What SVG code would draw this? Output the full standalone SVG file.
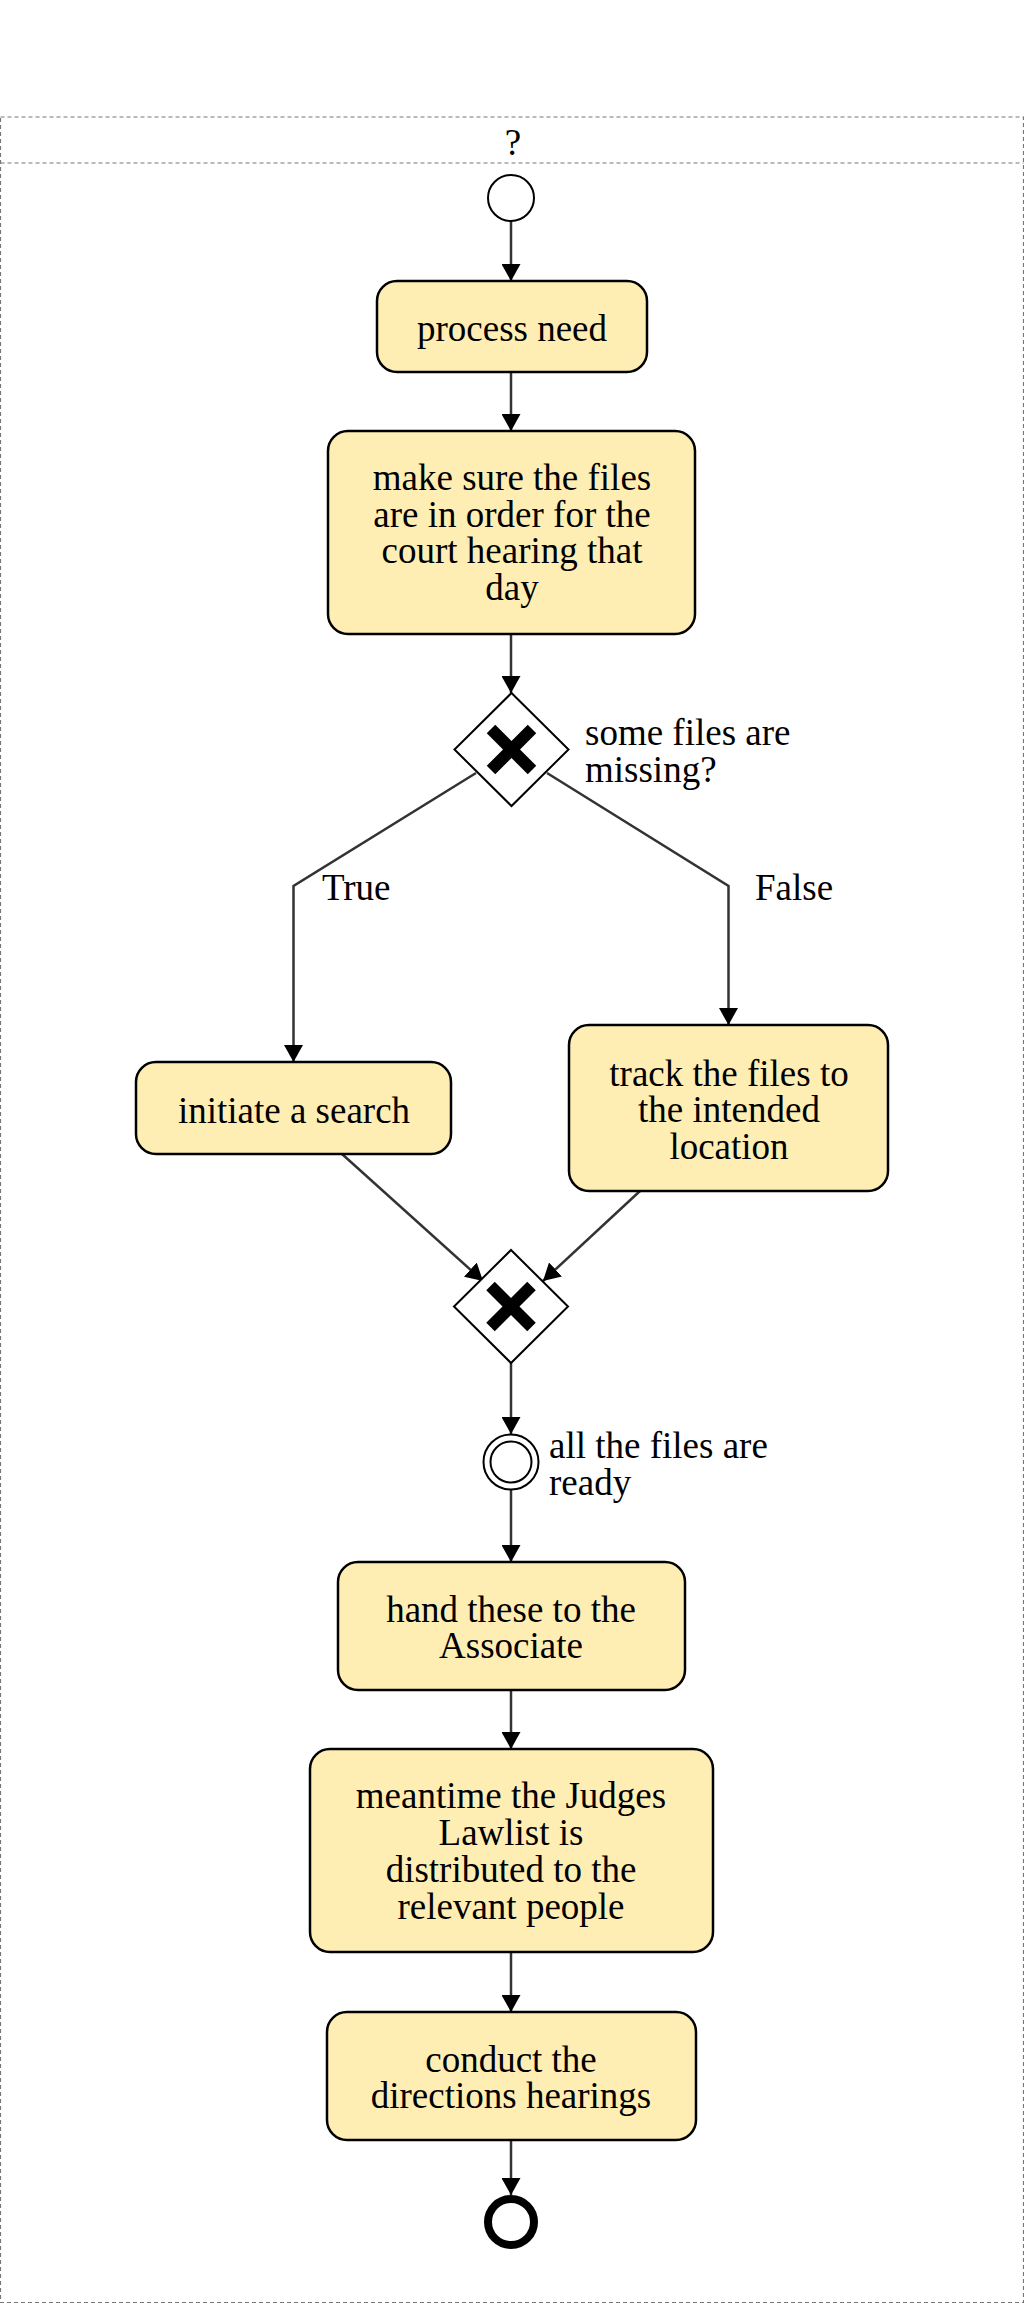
<svg xmlns="http://www.w3.org/2000/svg" width="1024" height="2304" viewBox="0 0 1024 2304">
  <style>
    .frame { fill: none; stroke: #777; stroke-width: 1.2; stroke-dasharray: 4 3; }
    .task { fill: #ffeeb4; stroke: #000; stroke-width: 2.5; }
    .gw { fill: #fff; stroke: #000; stroke-width: 2; }
    .xmark { stroke: #000; stroke-width: 12; stroke-linecap: butt; }
    .ev { fill: #fff; stroke: #000; stroke-width: 2; }
    .end { fill: #fff; stroke: #000; stroke-width: 8; }
    .flow { fill: none; stroke: #333; stroke-width: 2.5; marker-end: url(#arrow); }
    text { font-family: "Liberation Serif", "Times New Roman", serif; font-size: 37px; fill: #000; }
    .c { text-anchor: middle; }
  </style>
  <defs>
    <marker id="arrow" viewBox="0 0 17 19" refX="17" refY="9.5" markerWidth="17" markerHeight="19" markerUnits="userSpaceOnUse" orient="auto">
      <path d="M0,0 L17,9.5 L0,19 Z" fill="#000"/>
    </marker>
  </defs>

  <!-- pool with its header band -->
  <g id="pool">
    <rect class="frame" x="0.5" y="117" width="1023" height="2185.5"/>
    <line class="frame" x1="0.5" y1="163" x2="1023.5" y2="163"/>
    <text class="c" x="513" y="155">?</text>
  </g>

  <!-- sequence flows -->
  <g id="connectors">
    <path class="flow" d="M511,221 L511,281"/>
    <path class="flow" d="M511,372 L511,431"/>
    <path class="flow" d="M511,634 L511,693"/>
    <path class="flow" d="M476,773 L293.5,886 L293.5,1062"/>
    <path class="flow" d="M547,773 L728.5,886 L728.5,1025"/>
    <path class="flow" d="M342,1154 L483,1281"/>
    <path class="flow" d="M640,1191 L543,1281"/>
    <path class="flow" d="M511,1363 L511,1434"/>
    <path class="flow" d="M511,1490 L511,1562"/>
    <path class="flow" d="M511,1690 L511,1749"/>
    <path class="flow" d="M511,1952 L511,2012"/>
    <path class="flow" d="M511,2140 L511,2195"/>
    <text x="322" y="900">True</text>
    <text x="755" y="900">False</text>
  </g>

  <g id="start">
    <circle class="ev" cx="511" cy="198" r="23"/>
  </g>

  <g id="process-need">
    <rect class="task" x="377" y="281" width="270" height="91" rx="20"/>
    <text class="c" x="512" y="341">process need</text>
  </g>

  <g id="make-sure">
    <rect class="task" x="328" y="431" width="367" height="203" rx="20"/>
    <text class="c" x="512" y="490">make sure the files</text>
    <text class="c" x="512" y="527">are in order for the</text>
    <text class="c" x="512" y="563">court hearing that</text>
    <text class="c" x="512" y="600">day</text>
  </g>

  <g id="split-gateway">
    <polygon class="gw" points="511.5,693 568.5,749.5 511.5,806 454.5,749.5"/>
    <line class="xmark" x1="491" y1="729" x2="532" y2="770"/>
    <line class="xmark" x1="532" y1="729" x2="491" y2="770"/>
    <text x="585" y="745">some files are</text>
    <text x="585" y="782">missing?</text>
  </g>

  <g id="initiate-search">
    <rect class="task" x="136" y="1062" width="315" height="92" rx="20"/>
    <text class="c" x="294" y="1123">initiate a search</text>
  </g>

  <g id="track-files">
    <rect class="task" x="569" y="1025" width="319" height="166" rx="20"/>
    <text class="c" x="729" y="1086">track the files to</text>
    <text class="c" x="729" y="1122">the intended</text>
    <text class="c" x="729" y="1159">location</text>
  </g>

  <g id="merge-gateway">
    <polygon class="gw" points="511,1250 568,1306.5 511,1363 454,1306.5"/>
    <line class="xmark" x1="490.5" y1="1286" x2="531.5" y2="1327"/>
    <line class="xmark" x1="531.5" y1="1286" x2="490.5" y2="1327"/>
  </g>

  <g id="files-ready">
    <circle class="ev" cx="511" cy="1462" r="27.5"/>
    <circle class="ev" cx="511" cy="1462" r="20.5"/>
    <text x="549" y="1458">all the files are</text>
    <text x="549" y="1495">ready</text>
  </g>

  <g id="hand-to-associate">
    <rect class="task" x="338" y="1562" width="347" height="128" rx="20"/>
    <text class="c" x="511" y="1622">hand these to the</text>
    <text class="c" x="511" y="1658">Associate</text>
  </g>

  <g id="distribute-lawlist">
    <rect class="task" x="310" y="1749" width="403" height="203" rx="20"/>
    <text class="c" x="511" y="1808">meantime the Judges</text>
    <text class="c" x="511" y="1845">Lawlist is</text>
    <text class="c" x="511" y="1882">distributed to the</text>
    <text class="c" x="511" y="1919">relevant people</text>
  </g>

  <g id="directions-hearings">
    <rect class="task" x="327" y="2012" width="369" height="128" rx="20"/>
    <text class="c" x="511" y="2072">conduct the</text>
    <text class="c" x="511" y="2108">directions hearings</text>
  </g>

  <g id="end">
    <circle class="end" cx="511" cy="2222" r="23"/>
  </g>
</svg>
